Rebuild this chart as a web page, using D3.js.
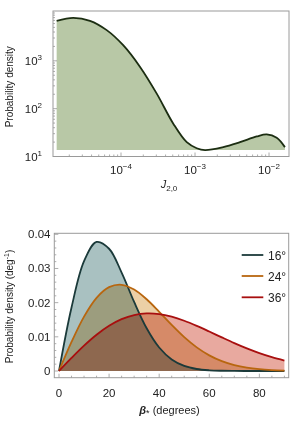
<!DOCTYPE html>
<html><head><meta charset="utf-8">
<script src="https://cdn.jsdelivr.net/npm/d3@7"></script>
<style>
body{margin:0;background:#fff;}
svg{display:block;font-family:"Liberation Sans",Arial,sans-serif;}
</style></head>
<body>
<svg id="c" width="299" height="422"></svg>
<script>
// ---- Top panel data ----
const jValues = [1.35e-5, 2.26e-5, 3.81e-5, 6.41e-5, 1.07e-4, 1.81e-4, 3.04e-4, 5.09e-4, 7.73e-4, 1.055e-3, 1.365e-3, 2.41e-3, 4.05e-3, 6.82e-3, 9.31e-3, 1.27e-2, 1.64e-2];
const jDensity = [6870, 7930, 6870, 4385, 2123, 745, 206, 48.5, 19.9, 14.9, 13.6, 15.7, 19.9, 26.2, 28.9, 24.7, 15.7];
const topYTicks = [10, 100, 1000];
const topYTickExp = ["1", "2", "3"];
const topXTicks = [1e-4, 1e-3, 1e-2];
const topXTickExp = ["-4", "-3", "-2"];

// ---- Bottom panel data ----
const beta = [0,5,10,15,20,25,30,35,40,45,50,55,60,65,70,75,80,85,90];
const p16 = [0,0.01860,0.03213,0.03776,0.03577,0.02881,0.02020,0.01250,0.006866,0.003369,0.001479,0.000584,0.000207,0.0000663,0.0000191,0.000005,0.000001,0,0];
const p24 = [0,0.008494,0.015918,0.021422,0.024537,0.025229,0.023845,0.020981,0.017316,0.013470,0.009910,0.006910,0.004577,0.002882,0.001728,0.000986,0.000537,0.000279,0.000138];
const p36 = [0,0.003821,0.007424,0.010612,0.013225,0.015157,0.016357,0.016835,0.016648,0.015897,0.014706,0.013211,0.011544,0.009827,0.008154,0.006607,0.005225,0.004039,0.003051];
const seriesNames = ["16°", "24°", "36°"];
const bottomXTicks = [0, 20, 40, 60, 80];
const bottomYTicks = [0, 0.01, 0.02, 0.03, 0.04];
const bottomYTickLabels = ["0", "0.01", "0.02", "0.03", "0.04"];

const svg = d3.select("#c");
const frameColor = "#9a9a9a";
const tickColor = "#8a8a8a";
const textColor = "#222";

// ================= TOP =================
const tL = 53, tR = 289, tT = 11, tB = 156.5;
const xT = d3.scaleLog().domain([1.205e-5, 0.01862]).range([tL, tR]);
const yT = d3.scaleLog().domain([10, 11000]).range([tB, tT]);

const topG = svg.append("g");
topG.append("clipPath").attr("id","clipT").append("rect")
  .attr("x", tL).attr("y", tT).attr("width", tR-tL).attr("height", tB-tT);

const topPts = jValues.map((v,i)=>[v, jDensity[i]]);
const baseVal = 13.6;
topG.append("path").datum(topPts)
  .attr("clip-path","url(#clipT)")
  .attr("fill", "#b8c8a6")
  .attr("d", d3.area().x(d=>xT(d[0])).y0(yT(baseVal)).y1(d=>yT(d[1])).curve(d3.curveCatmullRom));
topG.append("path").datum(topPts)
  .attr("clip-path","url(#clipT)")
  .attr("fill","none").attr("stroke","#1c2e12").attr("stroke-width",1.8)
  .attr("d", d3.line().x(d=>xT(d[0])).y(d=>yT(d[1])).curve(d3.curveCatmullRom));

// ticks top panel
const xMinorT = [];
for (let e=-5; e<=-2; e++) for (let m=1; m<=9; m++) { const v=m*Math.pow(10,e); if (v>=xT.domain()[0] && v<=xT.domain()[1]) xMinorT.push(v); }
topG.selectAll(".xtT").data(xMinorT).join("line")
  .attr("x1", d=>xT(d)).attr("x2", d=>xT(d))
  .attr("y1", tB).attr("y2", d=> topXTicks.some(t=>Math.abs(t-d)/d<1e-6) ? tB-4 : tB-2)
  .attr("stroke", tickColor).attr("stroke-width",0.7);
const yMinorT = [];
for (let e=1; e<=4; e++) for (let m=1; m<=9; m++) { const v=m*Math.pow(10,e); if (v>=10 && v<=yT.domain()[1]) yMinorT.push(v); }
topG.selectAll(".ytT").data(yMinorT).join("line")
  .attr("y1", d=>yT(d)).attr("y2", d=>yT(d))
  .attr("x1", tL).attr("x2", d=> topYTicks.some(t=>Math.abs(t-d)/d<1e-6) ? tL+4 : tL+2)
  .attr("stroke", tickColor).attr("stroke-width",0.7);

topG.append("rect").attr("x", tL).attr("y", tT).attr("width", tR-tL).attr("height", tB-tT)
  .attr("fill","none").attr("stroke", frameColor).attr("stroke-width",1);

// y tick labels
topYTicks.forEach((t,i)=>{
  const tx = topG.append("text").attr("x", 42).attr("y", yT(t)+4)
    .attr("text-anchor","end").attr("font-size",11.5).attr("fill",textColor);
  tx.append("tspan").text("10");
  tx.append("tspan").attr("dy",-5).attr("font-size",8).text(topYTickExp[i]);
});
// x tick labels
topXTicks.forEach((t,i)=>{
  const tx = topG.append("text").attr("x", xT(t)).attr("y", 174)
    .attr("text-anchor","middle").attr("font-size",11.5).attr("fill",textColor);
  tx.append("tspan").text("10");
  tx.append("tspan").attr("dy",-5).attr("font-size",8).text(topXTickExp[i].replace("-","\u2212"));
});
// axis titles
topG.append("text").attr("transform",`translate(13,${(tT+tB)/2+3}) rotate(-90)`)
  .attr("text-anchor","middle").attr("font-size",10).attr("fill",textColor).text("Probability density");
const jt = topG.append("text").attr("x", 169).attr("y", 188).attr("text-anchor","middle")
  .attr("font-size",11).attr("fill",textColor);
jt.append("tspan").attr("font-style","italic").text("J");
jt.append("tspan").attr("dy",3).attr("font-size",8).text("2,0");

// ================= BOTTOM =================
const bL = 54.3, bR = 288.7, bT = 233.3, bB = 377.7;
const xB = d3.scaleLinear().domain([0, 90]).range([59, 284.4]);
const yB = d3.scaleLinear().domain([0, 0.04]).range([371, 234.3]);
const botG = svg.append("g");
botG.append("clipPath").attr("id","clipB").append("rect")
  .attr("x", bL).attr("y", bT).attr("width", bR-bL).attr("height", bB-bT);

const series = [
  {name: seriesNames[0], vals: p16, stroke: "#1b3a3a", fill: "#a9c1c1"},
  {name: seriesNames[1], vals: p24, stroke: "#b8660f", fill: "#ecd0a6"},
  {name: seriesNames[2], vals: p36, stroke: "#a80f0f", fill: "#e8a99f"}
];
const fillsG = botG.append("g").attr("clip-path","url(#clipB)");
series.forEach(s=>{
  const pts = beta.map((b,i)=>[b, s.vals[i]]);
  fillsG.append("path").datum(pts)
    .attr("fill", s.fill).style("mix-blend-mode","multiply")
    .attr("d", d3.area().x(d=>xB(d[0])).y0(yB(0)).y1(d=>yB(d[1])).curve(d3.curveCatmullRom));
});
const linesG = botG.append("g").attr("clip-path","url(#clipB)");
series.forEach(s=>{
  const pts = beta.map((b,i)=>[b, s.vals[i]]);
  linesG.append("path").datum(pts)
    .attr("fill","none").attr("stroke", s.stroke).attr("stroke-width",1.8)
    .attr("d", d3.line().x(d=>xB(d[0])).y(d=>yB(d[1])).curve(d3.curveCatmullRom));
});

// ticks
const xMinorB = d3.range(0, 91, 5);
botG.selectAll(".xtB").data(xMinorB).join("line")
  .attr("x1", d=>xB(d)).attr("x2", d=>xB(d))
  .attr("y1", bB).attr("y2", d=> d%20===0 ? bB-4 : bB-2)
  .attr("stroke", tickColor).attr("stroke-width",0.7);
const yMinorB = d3.range(0, 0.0401, 0.002);
botG.selectAll(".ytB").data(yMinorB).join("line")
  .attr("y1", d=>yB(d)).attr("y2", d=>yB(d))
  .attr("x1", bL).attr("x2", (d,i)=> i%5===0 ? bL+4 : bL+2)
  .attr("stroke", tickColor).attr("stroke-width",0.7);

botG.append("rect").attr("x", bL).attr("y", bT).attr("width", bR-bL).attr("height", bB-bT)
  .attr("fill","none").attr("stroke", frameColor).attr("stroke-width",1);

bottomYTicks.forEach((t,i)=>{
  botG.append("text").attr("x", 50.5).attr("y", yB(t)+4).attr("text-anchor","end")
    .attr("font-size",11.5).attr("fill",textColor).text(bottomYTickLabels[i]);
});
bottomXTicks.forEach(t=>{
  botG.append("text").attr("x", xB(t)).attr("y", 397).attr("text-anchor","middle")
    .attr("font-size",11.5).attr("fill",textColor).text(t);
});
const yl = botG.append("text").attr("transform",`translate(13,306.5) rotate(-90)`)
  .attr("text-anchor","middle").attr("font-size",10).attr("fill",textColor);
yl.append("tspan").text("Probability density  (deg");
yl.append("tspan").attr("dy",-4).attr("font-size",7).text("-1");
yl.append("tspan").attr("dy",4).text(")");
const xl = botG.append("text").attr("x", 169.5).attr("y", 414).attr("text-anchor","middle")
  .attr("font-size",11).attr("fill",textColor);
xl.append("tspan").attr("font-style","italic").attr("font-weight","bold").text("β");
xl.append("tspan").attr("dy",2).attr("font-size",9).text("*");
xl.append("tspan").attr("dy",-2).text(" (degrees)");

// legend
const legY = [255, 276, 297.3];
series.forEach((s,i)=>{
  botG.append("line").attr("x1", 241.7).attr("x2", 263.3).attr("y1", legY[i]).attr("y2", legY[i])
    .attr("stroke", s.stroke).attr("stroke-width",1.8);
  botG.append("text").attr("x", 268).attr("y", legY[i]+4.5).attr("font-size",12).attr("fill",textColor).text(s.name);
});
</script>
</body></html>
